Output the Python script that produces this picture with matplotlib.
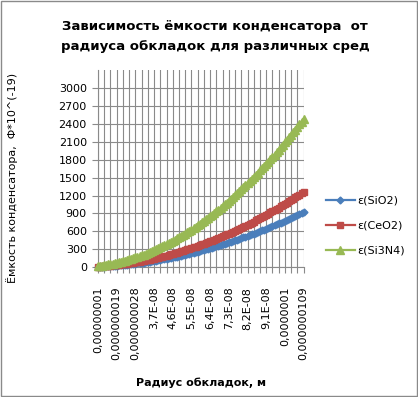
import matplotlib
matplotlib.use("Agg")
import matplotlib.pyplot as plt
import matplotlib.patches as patches

# radius of the plates, nm (categories of the x axis)
radius_nm = list(range(10, 110))

# capacitance, F*10^(-19)
c_sio2 = [8, 9, 11, 13, 15, 18, 20, 23, 25, 28,
          31, 34, 38, 41, 45, 49, 53, 57, 61, 66,
          70, 75, 80, 85, 90, 96, 101, 107, 113, 119,
          125, 131, 138, 144, 151, 158, 165, 172, 180, 187,
          195, 203, 211, 219, 227, 236, 245, 253, 262, 272,
          281, 290, 300, 310, 319, 330, 340, 350, 361, 371,
          382, 393, 404, 416, 427, 439, 451, 462, 475, 487,
          499, 512, 524, 537, 550, 564, 577, 590, 604, 618,
          632, 646, 660, 675, 689, 704, 719, 734, 749, 764,
          780, 796, 812, 828, 844, 860, 876, 893, 910, 927]
c_ceo2 = [11, 13, 15, 18, 21, 24, 27, 31, 34, 38,
          42, 47, 51, 56, 61, 66, 72, 77, 83, 89,
          95, 102, 109, 115, 123, 130, 137, 145, 153, 161,
          170, 178, 187, 196, 205, 215, 224, 234, 244, 255,
          265, 276, 287, 298, 309, 321, 332, 344, 357, 369,
          382, 394, 407, 421, 434, 448, 462, 476, 490, 505,
          519, 534, 550, 565, 580, 596, 612, 628, 645, 662,
          678, 695, 713, 730, 748, 766, 784, 802, 821, 840,
          859, 878, 897, 917, 937, 957, 977, 997, 1018, 1039,
          1060, 1081, 1103, 1125, 1146, 1169, 1191, 1214, 1236, 1259]
c_si3n4 = [21, 25, 30, 35, 41, 47, 54, 60, 68, 75,
           84, 92, 101, 111, 120, 131, 141, 152, 164, 176,
           188, 201, 214, 228, 242, 256, 271, 286, 302, 318,
           334, 351, 369, 386, 405, 423, 442, 462, 482, 502,
           522, 544, 565, 587, 609, 632, 655, 679, 703, 728,
           752, 778, 803, 830, 856, 883, 910, 938, 966, 995,
           1024, 1054, 1083, 1114, 1144, 1176, 1207, 1239, 1272, 1304,
           1338, 1371, 1405, 1440, 1475, 1510, 1546, 1582, 1619, 1655,
           1693, 1731, 1769, 1808, 1847, 1886, 1926, 1966, 2007, 2048,
           2090, 2132, 2174, 2217, 2261, 2304, 2348, 2393, 2438, 2483]

series_names = ["ε(SiO2)", "ε(CeO2)", "ε(Si3N4)"]

x_tick_labels = ["0,00000001", "0,000000019", "0,000000028", "3,7E-08",
                 "4,6E-08", "5,5E-08", "6,4E-08", "7,3E-08", "8,2E-08",
                 "9,1E-08", "0,0000001", "0,000000109"]
y_ticks = [0, 300, 600, 900, 1200, 1500, 1800, 2100, 2400, 2700, 3000]

grid_color = "#8a8a8a"

fig = plt.figure(figsize=(4.18, 3.97), dpi=100)
ax = fig.add_axes([0.2344, 0.3267, 0.492, 0.4970])

idx = list(range(len(radius_nm)))
styles = [("#4A7EBB", "D", 3.5), ("#BE4B48", "s", 4.8), ("#98B954", "^", 5.5)]
for vals, name, (col, mk, ms) in zip([c_sio2, c_ceo2, c_si3n4],
                                     series_names, styles):
    ax.plot(idx, vals, color=col, lw=1.6, marker=mk, ms=ms,
            mec=col, mfc=col, label=name, clip_on=False, zorder=3)

    # axes, grid
ax.set_xlim(0, len(radius_nm) - 1)
ax.set_ylim(0, 3300)
ax.set_yticks(y_ticks)
ax.set_yticklabels([str(v) for v in y_ticks], fontsize=8)
xt = idx[::3]
ax.set_xticks(xt)
lab_pos = idx[::9]
ax.set_xticklabels([x_tick_labels[lab_pos.index(i)] if i in lab_pos else ""
                    for i in xt], rotation=90, fontsize=8, va="top")
ax.tick_params(axis="both", colors=grid_color, length=4, width=0.8,
               labelcolor="black", pad=4)
ax.tick_params(axis="x", pad=10)
ax.grid(True, color=grid_color, lw=0.8)
ax.set_axisbelow(True)
for s in ["top", "right"]:
    ax.spines[s].set_visible(False)
for s in ["left", "bottom"]:
    ax.spines[s].set_color(grid_color)
    ax.spines[s].set_linewidth(0.8)

ax.set_xlabel("Радиус обкладок, м", fontsize=8, fontweight="bold", labelpad=12)
ax.set_ylabel("Ёмкость конденсатора,  Ф*10^(-19)", fontsize=8)
ax.yaxis.set_label_coords(-0.39, 0.455)

fig.text(0.515, 0.908, "Зависимость ёмкости конденсатора  от\nрадиуса обкладок для различных сред",
         ha="center", va="center", fontsize=9.5, fontweight="bold",
         linespacing=1.75)

leg = ax.legend(loc="center left", bbox_to_anchor=(1.06, 0.21), frameon=False,
                fontsize=8, handlelength=2.6, labelspacing=1.35,
                handletextpad=0.2)

    # chart area border
fig.patches.append(patches.Rectangle((0.002, 0.002), 0.995, 0.995,
                                     transform=fig.transFigure, fill=False,
                                     edgecolor=grid_color, lw=1))

fig.savefig("out.png", dpi=100)
